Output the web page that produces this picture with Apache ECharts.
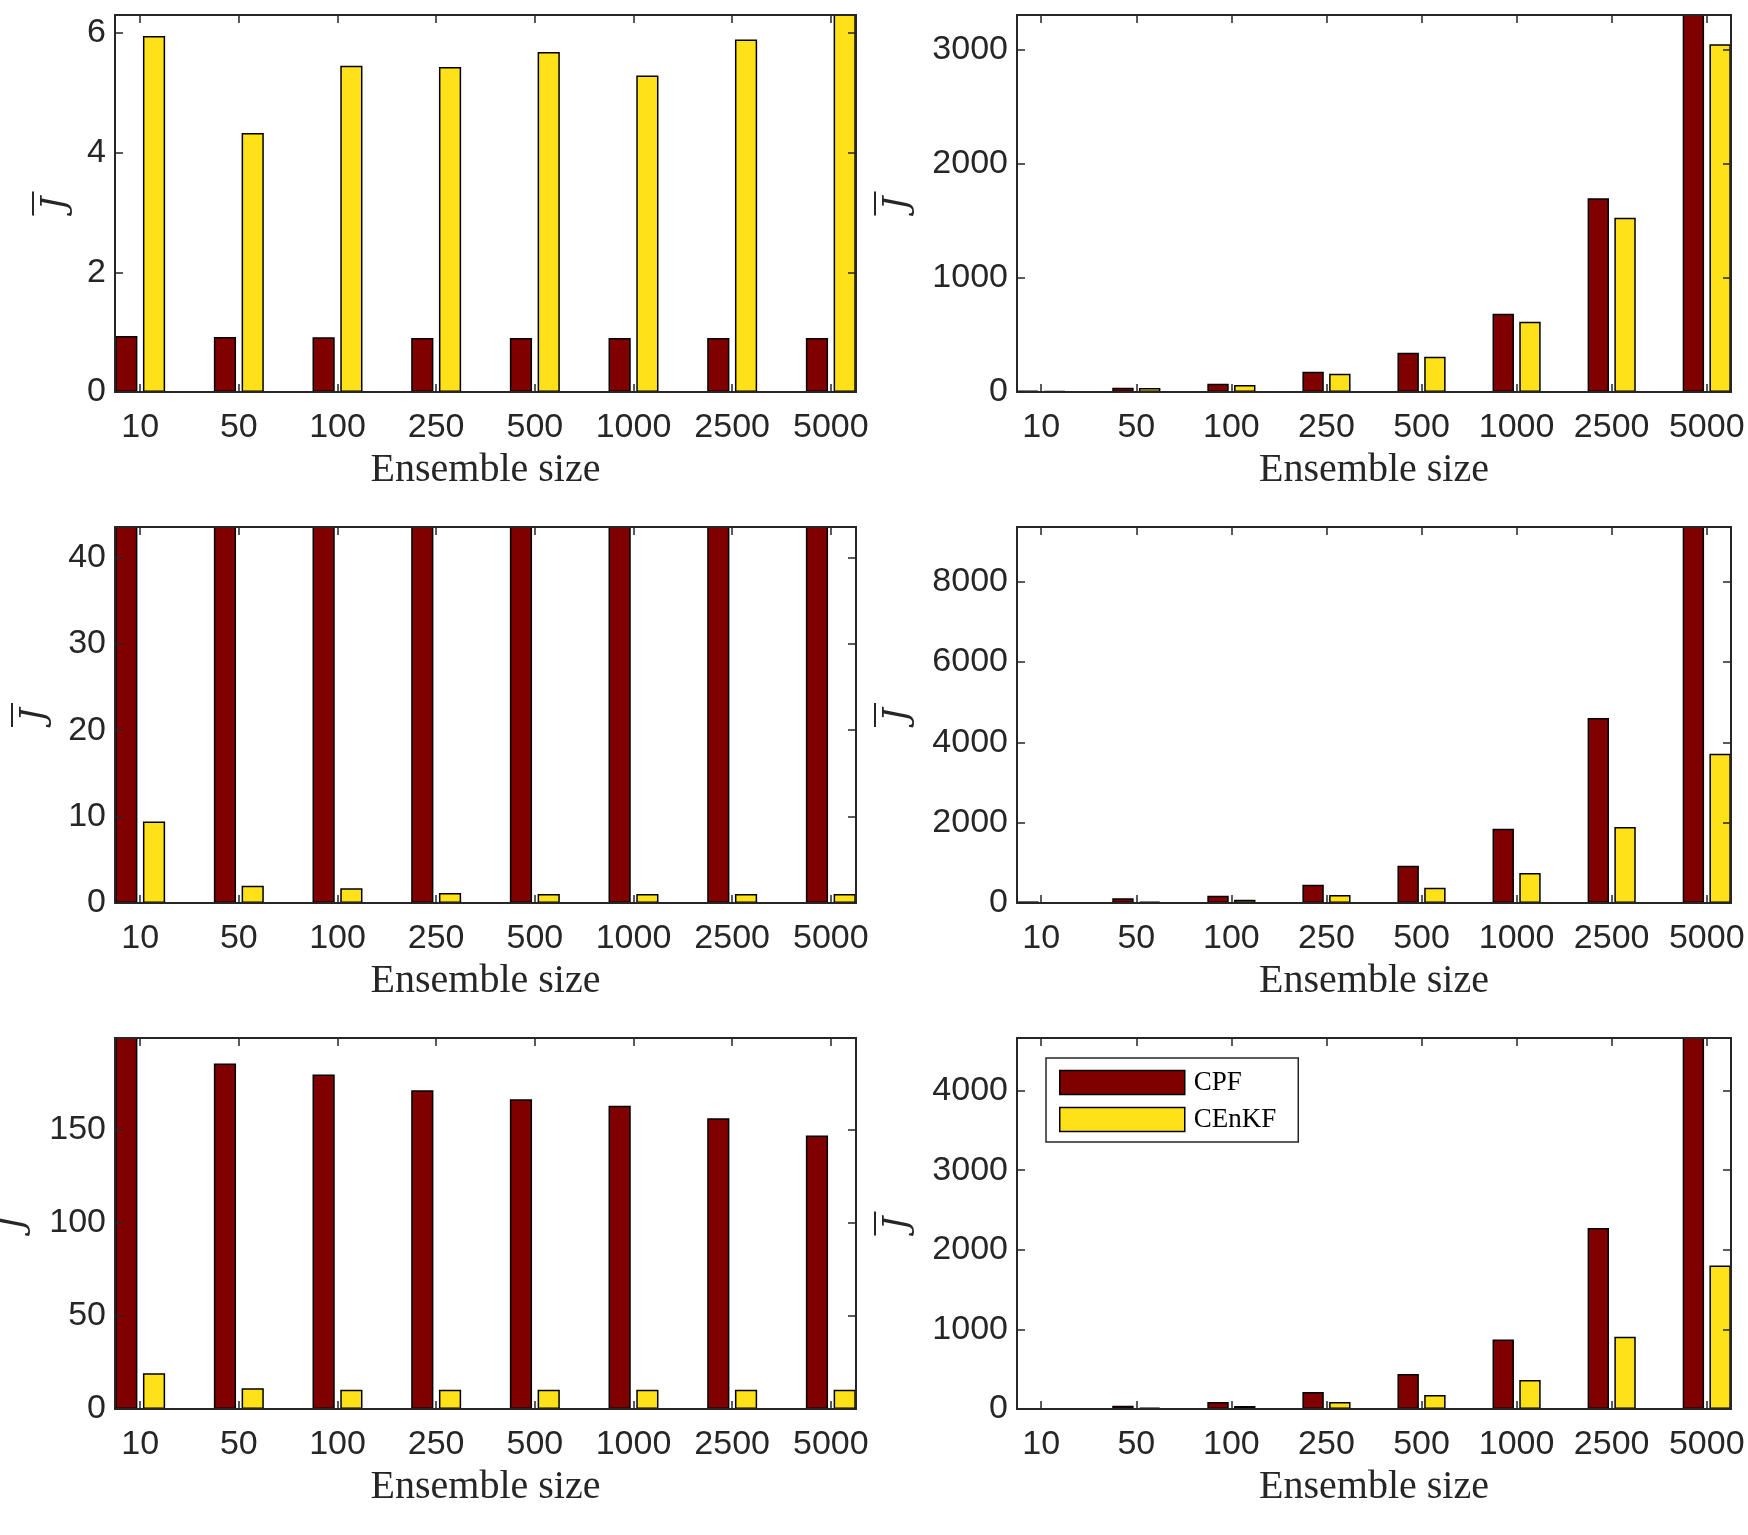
<!DOCTYPE html>
<html>
<head>
<meta charset="utf-8">
<script src="https://cdn.jsdelivr.net/npm/echarts@6.0.0/dist/echarts.min.js"></script>
<style>
  html, body { margin: 0; padding: 0; background: #fff; }
  #chart { width: 1748px; height: 1535px; }
</style>
</head>
<body>
<div id="chart"></div>
<script>
// ensemble sizes shared by all six panels
const sizes = ['10', '50', '100', '250', '500', '1000', '2500', '5000'];

// panel 1 (top left)
const cpf1 = [0.936, 0.92, 0.914, 0.903, 0.903, 0.903, 0.903, 0.903];
const cenkf1 = [5.95, 4.33, 5.45, 5.43, 5.68, 5.29, 5.89, 6.6];
const yTicks1 = [0, 2, 4, 6];

// panel 2 (top right)
const cpf2 = [12, 38, 73, 178, 344, 685, 1697, 3420];
const cenkf2 = [8, 35, 61, 160, 309, 615, 1525, 3044];
const yTicks2 = [0, 1000, 2000, 3000];

// panel 3 (middle left)
const cpf3 = [48, 48, 48, 48, 48, 48, 48, 48];
const cenkf3 = [9.42, 2.0, 1.7, 1.16, 1.04, 1.04, 1.04, 1.04];
const yTicks3 = [0, 10, 20, 30, 40];

// panel 4 (middle right)
const cpf4 = [40, 116, 183, 456, 929, 1851, 4606, 9500];
const cenkf4 = [10, 33, 83, 199, 382, 747, 1892, 3718];
const yTicks4 = [0, 2000, 4000, 6000, 8000];

// panel 5 (bottom left)
const cpf5 = [205, 185.8, 179.9, 171.4, 166.5, 163.1, 156.3, 147.1];
const cenkf5 = [19.2, 11.2, 10.3, 10.3, 10.3, 10.3, 10.3, 10.3];
const yTicks5 = [0, 50, 100, 150];

// panel 6 (bottom right, carries the legend)
const cpf6 = [5, 42, 88, 213, 439, 874, 2272, 4700];
const cenkf6 = [2, 17, 38, 88, 176, 364, 908, 1803];
const yTicks6 = [0, 1000, 2000, 3000, 4000];

const INK = '#262626';
const catIdx = sizes.map((s, k) => k);

const grids = [], xAxes = [], yAxes = [], series = [];

function panel(i, box, cpf, cenkf, yMax, yTicks, yNameGap) {
  grids.push({ left: box[0], top: box[1], width: box[2], height: box[3], outerBoundsMode: 'none' });

  const line = { show: true, onZero: false, lineStyle: { color: INK, width: 2 } };
  const tick = (vals) => ({ show: true, inside: true, length: 8, customValues: vals, lineStyle: { color: INK, width: 1.5 } });

  xAxes.push({
    gridIndex: i, type: 'value', min: -0.255, max: 7.255, position: 'bottom', z: 5,
    axisLine: line, axisTick: tick(catIdx), splitLine: { show: false },
    axisLabel: {
      customValues: catIdx, formatter: v => sizes[v], margin: 19,
      fontFamily: 'Liberation Sans, Arial, sans-serif', fontSize: 34, color: INK
    },
    name: 'Ensemble size', nameLocation: 'middle', nameGap: 58,
    nameTextStyle: { fontFamily: 'Liberation Serif, Times New Roman, serif', fontSize: 40, color: INK }
  });
  xAxes.push({
    gridIndex: i, type: 'value', min: -0.255, max: 7.255, position: 'top', z: 5,
    axisLine: line, axisTick: tick(catIdx), axisLabel: { show: false }, splitLine: { show: false }
  });
  yAxes.push({
    gridIndex: i, type: 'value', min: 0, max: yMax, interval: yTicks[1] - yTicks[0], position: 'left', z: 5,
    axisLine: line, axisTick: tick(yTicks), splitLine: { show: false },
    axisLabel: {
      customValues: yTicks, margin: 9, formatter: v => String(v),
      fontFamily: 'Liberation Sans, Arial, sans-serif', fontSize: 34, color: INK
    },
    // J with an overline: a thin bar line stacked above the letter
    name: '{bar| }\n{j|J}', nameLocation: 'middle', nameGap: yNameGap,
    nameTextStyle: {
      color: INK,
      rich: {
        bar: { width: 24, height: 2, lineHeight: 12, fontSize: 2, backgroundColor: INK, align: 'center' },
        j: { fontFamily: 'DejaVu Serif, serif', fontStyle: 'italic', fontSize: 34, color: INK, lineHeight: 34, align: 'center' }
      }
    }
  });
  yAxes.push({
    gridIndex: i, type: 'value', min: 0, max: yMax, position: 'right', z: 5,
    axisLine: line, axisTick: tick(yTicks), axisLabel: { show: false }, splitLine: { show: false }
  });

  const bar = (name, vals, color) => ({
    type: 'bar', name: name, xAxisIndex: 2 * i, yAxisIndex: 2 * i,
    data: vals.map((v, k) => [k, v]),
    barWidth: '22.5%', barGap: '25%', clip: true,
    itemStyle: { color: color, borderColor: '#000', borderWidth: 1.5 }
  });
  series.push(bar('CPF', cpf, '#800000'));
  series.push(bar('CEnKF', cenkf, '#FFE11A'));
}

const L = 115, R = 1017, WL = 741, WR = 714;
panel(0, [L, 15, WL, 377], cpf1, cenkf1, 6.3, yTicks1, 42);
panel(1, [R, 15, WR, 377], cpf2, cenkf2, 3300, yTicks2, 102);
panel(2, [L, 527, WL, 376], cpf3, cenkf3, 43.5, yTicks3, 63);
panel(3, [R, 527, WR, 376], cpf4, cenkf4, 9360, yTicks4, 102);
panel(4, [L, 1038, WL, 371], cpf5, cenkf5, 199.5, yTicks5, 84);
panel(5, [R, 1038, WR, 371], cpf6, cenkf6, 4660, yTicks6, 102);

const chart = echarts.init(document.getElementById('chart'));
chart.setOption({
  backgroundColor: '#fff',
  animation: false,
  grid: grids,
  xAxis: xAxes,
  yAxis: yAxes,
  legend: {
    data: [{ name: 'CPF', icon: 'rect' }, { name: 'CEnKF', icon: 'rect' }],
    orient: 'vertical',
    left: 1046, top: 1058,
    padding: [11, 22, 9, 13], itemGap: 10,
    itemWidth: 125, itemHeight: 24,
    itemStyle: { borderColor: '#000', borderWidth: 1.5 },
    backgroundColor: '#fff', borderColor: INK, borderWidth: 1.5,
    textStyle: { fontFamily: 'Liberation Serif, Times New Roman, serif', fontSize: 27, color: '#000', padding: [0, 0, 0, 4] },
    selectedMode: false
  },
  series: series
});
</script>
</body>
</html>
